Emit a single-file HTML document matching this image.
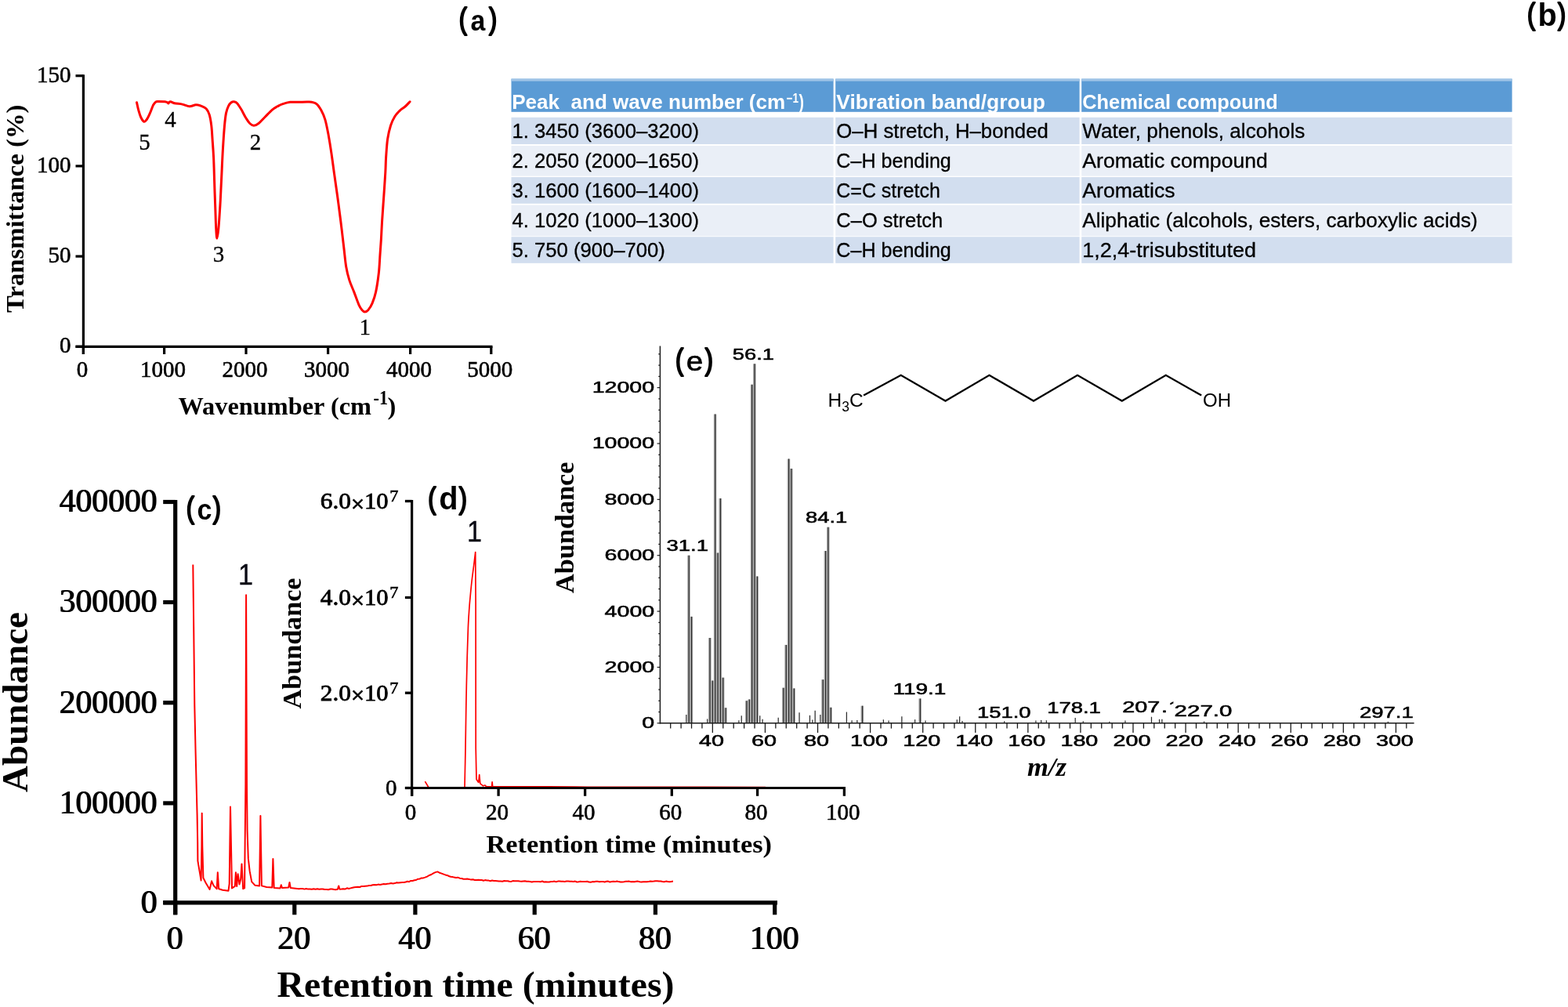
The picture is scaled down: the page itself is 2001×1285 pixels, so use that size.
<!DOCTYPE html>
<html lang="en"><head><meta charset="utf-8"><title>Figure</title>
<style>html,body{margin:0;padding:0;background:#fff}svg{display:block}</style></head>
<body>
<svg width="2001" height="1285" viewBox="0 0 2001 1285">
<rect width="2001" height="1285" fill="#fff"/>
<defs><filter id="bx2" x="-5%" y="-10%" width="110%" height="120%" color-interpolation-filters="sRGB"><feOffset in="SourceGraphic" dx="1" dy="0" result="a"/><feMerge><feMergeNode in="SourceGraphic"/><feMergeNode in="a"/></feMerge></filter></defs>
<text font-family='"Liberation Sans", sans-serif' fill="#000"><tspan x="585.8" y="37.0" font-size="38.8" font-weight="normal" stroke="#000" stroke-width="2.2" stroke-linejoin="round" textLength="10.2" lengthAdjust="spacingAndGlyphs">(</tspan><tspan x="600.4" y="39.0" font-size="37" font-weight="bold" textLength="18.8" lengthAdjust="spacingAndGlyphs">a</tspan><tspan x="624.0" y="37.0" font-size="38.8" font-weight="normal" stroke="#000" stroke-width="2.2" stroke-linejoin="round" textLength="10.2" lengthAdjust="spacingAndGlyphs">)</tspan></text>
<text font-family='"Liberation Sans", sans-serif' fill="#000"><tspan x="1949.0" y="31.2" font-size="38.8" font-weight="normal" stroke="#000" stroke-width="2.2" stroke-linejoin="round" textLength="10.2" lengthAdjust="spacingAndGlyphs">(</tspan><tspan x="1962.4" y="32.9" font-size="40.5" font-weight="bold" textLength="24.3" lengthAdjust="spacingAndGlyphs">b</tspan><tspan x="1988.0" y="31.2" font-size="38.8" font-weight="normal" stroke="#000" stroke-width="2.2" stroke-linejoin="round" textLength="10.2" lengthAdjust="spacingAndGlyphs">)</tspan></text>
<g id="panel-a">
<line x1="106.4" y1="95.2" x2="106.4" y2="452" stroke="#000" stroke-width="3.2" />
<line x1="96.5" y1="442.3" x2="628.5" y2="442.3" stroke="#000" stroke-width="3.2" />
<line x1="96.5" y1="442.3" x2="106.4" y2="442.3" stroke="#000" stroke-width="3.2" />
<text font-family='"Liberation Serif", serif' font-size="29" text-anchor="end" x="90.4" y="450.3" stroke="#000" stroke-width="0.6">0</text>
<line x1="96.5" y1="327.1" x2="106.4" y2="327.1" stroke="#000" stroke-width="3.2" />
<text font-family='"Liberation Serif", serif' font-size="29" text-anchor="end" x="90.4" y="335.1" stroke="#000" stroke-width="0.6">50</text>
<line x1="96.5" y1="211.9" x2="106.4" y2="211.9" stroke="#000" stroke-width="3.2" />
<text font-family='"Liberation Serif", serif' font-size="29" text-anchor="end" x="90.4" y="219.9" stroke="#000" stroke-width="0.6">100</text>
<line x1="96.5" y1="96.7" x2="106.4" y2="96.7" stroke="#000" stroke-width="3.2" />
<text font-family='"Liberation Serif", serif' font-size="29" text-anchor="end" x="90.4" y="104.7" stroke="#000" stroke-width="0.6">150</text>
<line x1="106.4" y1="442.3" x2="106.4" y2="452" stroke="#000" stroke-width="3.2" />
<text font-family='"Liberation Serif", serif' font-size="29" text-anchor="middle" x="104.9" y="480.7" stroke="#000" stroke-width="0.6">0</text>
<line x1="209.6" y1="442.3" x2="209.6" y2="452" stroke="#000" stroke-width="3.2" />
<text font-family='"Liberation Serif", serif' font-size="29" text-anchor="middle" x="208.1" y="480.7" stroke="#000" stroke-width="0.6">1000</text>
<line x1="314.0" y1="442.3" x2="314.0" y2="452" stroke="#000" stroke-width="3.2" />
<text font-family='"Liberation Serif", serif' font-size="29" text-anchor="middle" x="312.5" y="480.7" stroke="#000" stroke-width="0.6">2000</text>
<line x1="418.6" y1="442.3" x2="418.6" y2="452" stroke="#000" stroke-width="3.2" />
<text font-family='"Liberation Serif", serif' font-size="29" text-anchor="middle" x="417.1" y="480.7" stroke="#000" stroke-width="0.6">3000</text>
<line x1="523.6" y1="442.3" x2="523.6" y2="452" stroke="#000" stroke-width="3.2" />
<text font-family='"Liberation Serif", serif' font-size="29" text-anchor="middle" x="522.1" y="480.7" stroke="#000" stroke-width="0.6">4000</text>
<line x1="626.8" y1="442.3" x2="626.8" y2="452" stroke="#000" stroke-width="3.2" />
<text font-family='"Liberation Serif", serif' font-size="29" text-anchor="middle" x="625.3" y="480.7" stroke="#000" stroke-width="0.6">5000</text>
<text font-family='"Liberation Serif", serif' font-size="32" font-weight="bold" textLength="265.5" lengthAdjust="spacingAndGlyphs" transform="translate(29.5 399) rotate(-90)">Transmittance (%)</text>
<text font-family='"Liberation Serif", serif' font-weight="bold" font-size="32.5"><tspan x="227.5" y="528.7" textLength="246.5" lengthAdjust="spacingAndGlyphs">Wavenumber (cm</tspan><tspan x="476.5" y="515.6" font-size="24.5" textLength="18.5" lengthAdjust="spacingAndGlyphs">-1</tspan><tspan x="494.5" y="528.7">)</tspan></text>
<path d="M174.5 130.7C174.9 132.3 175.8 137.2 176.7 140.3C177.6 143.4 178.5 147.0 179.7 149.5C180.9 152.0 182.5 154.8 183.8 155.3C185.1 155.8 186.0 154.3 187.3 152.5C188.6 150.7 190.1 147.4 191.4 144.4C192.8 141.4 194.2 136.7 195.4 134.3C196.7 131.9 197.7 130.7 198.9 129.9C200.1 129.1 200.6 129.5 202.5 129.5C204.4 129.5 208.8 129.5 210.6 129.7C212.4 129.9 212.9 130.4 213.6 130.8C214.3 131.2 214.4 132.1 214.8 132.0C215.2 131.9 215.5 130.8 216.0 130.4C216.5 130.0 216.6 129.5 217.7 129.7C218.8 129.9 220.2 131.1 222.7 131.7C225.2 132.3 229.6 132.4 232.8 133.1C236.0 133.8 239.0 135.7 241.9 135.8C244.8 135.9 247.5 133.9 250.0 133.8C252.5 133.7 254.9 134.5 257.1 135.3C259.3 136.1 261.5 137.0 263.2 138.8C264.9 140.7 266.1 142.8 267.2 146.4C268.3 150.0 269.1 154.9 269.8 160.6C270.5 166.3 270.8 174.1 271.3 180.8C271.8 187.5 272.2 192.6 272.6 201.0C273.0 209.4 273.3 221.5 273.6 231.4C273.9 241.3 274.2 250.8 274.6 260.7C275.0 270.6 275.3 283.8 275.7 291.0C276.1 298.2 276.4 304.2 276.9 304.2C277.4 304.2 278.2 298.2 278.9 291.0C279.6 283.8 280.4 270.8 281.0 260.7C281.6 250.6 281.9 241.9 282.5 230.3C283.1 218.7 283.7 202.5 284.4 190.9C285.1 179.3 285.8 168.3 286.5 160.6C287.2 152.8 287.7 148.6 288.5 144.4C289.3 140.2 290.4 137.6 291.5 135.3C292.6 133.0 293.9 131.6 295.1 130.7C296.3 129.8 297.4 129.5 298.6 129.7C299.9 129.9 301.1 130.1 302.6 131.7C304.1 133.3 305.8 136.2 307.7 139.3C309.6 142.4 311.9 147.5 313.8 150.5C315.7 153.5 317.1 155.9 318.8 157.5C320.5 159.1 322.0 160.3 323.9 160.3C325.8 160.3 327.6 159.3 330.0 157.5C332.4 155.7 335.1 152.4 338.0 149.5C340.9 146.6 344.4 142.6 347.1 140.3C349.8 138.0 351.8 137.1 354.0 135.8C356.2 134.6 357.5 133.7 360.2 132.8C362.9 131.9 366.9 130.7 370.3 130.3C373.7 129.9 376.4 130.3 380.5 130.3C384.6 130.3 390.7 129.8 394.6 130.1C398.5 130.4 401.2 130.7 403.7 132.4C406.2 134.1 407.9 137.1 409.8 140.5C411.7 143.9 413.4 147.5 414.9 152.6C416.4 157.7 417.5 163.6 418.9 170.8C420.2 178.0 421.8 187.8 423.0 196.0C424.2 204.2 425.0 210.9 426.3 220.0C427.6 229.1 429.2 240.2 430.6 250.3C432.0 260.4 433.2 269.9 434.6 280.7C436.0 291.5 437.5 305.1 438.7 315.0C439.9 324.9 440.5 333.1 441.7 340.2C442.9 347.3 444.1 352.0 445.8 357.4C447.5 362.8 449.8 367.4 451.8 372.6C453.8 377.8 456.2 385.0 457.9 388.8C459.6 392.6 460.6 393.9 461.9 395.4C463.2 396.9 464.1 397.9 465.5 397.9C466.9 397.9 468.4 397.2 470.0 395.4C471.6 393.5 473.5 390.6 475.1 386.8C476.7 383.0 478.2 379.1 479.6 372.6C481.0 366.1 482.5 355.9 483.4 348.0C484.3 340.1 484.5 332.2 485.0 325.0C485.5 317.8 485.9 312.4 486.4 305.0C486.8 297.6 487.1 289.8 487.7 280.7C488.3 271.6 489.1 260.4 489.8 250.3C490.5 240.2 491.3 228.2 491.8 220.0C492.3 211.8 492.1 208.3 492.6 201.2C493.1 194.1 493.6 184.4 494.6 177.5C495.6 170.6 497.1 164.8 498.6 160.0C500.2 155.2 502.0 151.6 503.9 148.5C505.8 145.4 507.8 143.4 510.0 141.3C512.2 139.2 514.8 137.9 517.0 136.0C519.2 134.1 522.1 130.8 523.1 129.8" fill="none" stroke="#fe0000" stroke-width="3" stroke-linecap="round" stroke-linejoin="round"/>
<text font-family='"Liberation Serif", serif' font-size="29" text-anchor="middle" x="184.5" y="191.3" stroke="#000" stroke-width="0.3">5</text>
<text font-family='"Liberation Serif", serif' font-size="29" text-anchor="middle" x="217.5" y="162.0" stroke="#000" stroke-width="0.3">4</text>
<text font-family='"Liberation Serif", serif' font-size="29" text-anchor="middle" x="326" y="191.0" stroke="#000" stroke-width="0.3">2</text>
<text font-family='"Liberation Serif", serif' font-size="29" text-anchor="middle" x="279" y="334.0" stroke="#000" stroke-width="0.3">3</text>
<text font-family='"Liberation Serif", serif' font-size="29" text-anchor="middle" x="465.7" y="427.0" stroke="#000" stroke-width="0.3">1</text>
</g>
<g id="panel-b">
<rect x="652.50" y="100.60" width="411.10" height="42.20" fill="#5b9bd5"/>
<rect x="1066.20" y="100.60" width="311.40" height="42.20" fill="#5b9bd5"/>
<rect x="1380.20" y="100.60" width="549.40" height="42.20" fill="#5b9bd5"/>
<rect x="652.50" y="149.80" width="411.10" height="34.20" fill="#d2deef"/>
<rect x="1066.20" y="149.80" width="311.40" height="34.20" fill="#d2deef"/>
<rect x="1380.20" y="149.80" width="549.40" height="34.20" fill="#d2deef"/>
<rect x="652.50" y="186.00" width="411.10" height="38.60" fill="#eaeff7"/>
<rect x="1066.20" y="186.00" width="311.40" height="38.60" fill="#eaeff7"/>
<rect x="1380.20" y="186.00" width="549.40" height="38.60" fill="#eaeff7"/>
<rect x="652.50" y="226.00" width="411.10" height="33.80" fill="#d2deef"/>
<rect x="1066.20" y="226.00" width="311.40" height="33.80" fill="#d2deef"/>
<rect x="1380.20" y="226.00" width="549.40" height="33.80" fill="#d2deef"/>
<rect x="652.50" y="261.60" width="411.10" height="39.70" fill="#eaeff7"/>
<rect x="1066.20" y="261.60" width="311.40" height="39.70" fill="#eaeff7"/>
<rect x="1380.20" y="261.60" width="549.40" height="39.70" fill="#eaeff7"/>
<rect x="652.50" y="302.20" width="411.10" height="33.60" fill="#d2deef"/>
<rect x="1066.20" y="302.20" width="311.40" height="33.60" fill="#d2deef"/>
<rect x="1380.20" y="302.20" width="549.40" height="33.60" fill="#d2deef"/>
<rect x="652.50" y="100.60" width="411.10" height="3.00" fill="#9fc4e7"/>
<rect x="1066.20" y="100.60" width="311.40" height="3.00" fill="#9fc4e7"/>
<rect x="1380.20" y="100.60" width="549.40" height="3.00" fill="#9fc4e7"/>
<text font-family='"Liberation Sans", sans-serif' font-size="25.4" font-weight="bold" fill="#fff"><tspan x="653.2" y="139.2" textLength="349.0" lengthAdjust="spacingAndGlyphs">Peak  and wave number (cm</tspan><tspan x="1003.5" y="130.5" font-size="16.5" textLength="15.5" lengthAdjust="spacingAndGlyphs">−1</tspan><tspan x="1019.5" y="139.2" textLength="6.5" lengthAdjust="spacingAndGlyphs">)</tspan></text>
<text font-family='"Liberation Sans", sans-serif' font-size="25.4" font-weight="bold" textLength="266.5" lengthAdjust="spacingAndGlyphs" fill="#fff" x="1067.3" y="139.2">Vibration band/group</text>
<text font-family='"Liberation Sans", sans-serif' font-size="25.4" font-weight="bold" textLength="249.5" lengthAdjust="spacingAndGlyphs" fill="#fff" x="1381.3" y="139.2">Chemical compound</text>
<text font-family='"Liberation Sans", sans-serif' font-size="25.4" textLength="238.6" lengthAdjust="spacingAndGlyphs" x="653.4" y="176.3" stroke="#000" stroke-width="0.3">1. 3450 (3600–3200)</text>
<text font-family='"Liberation Sans", sans-serif' font-size="25.4" textLength="270.5" lengthAdjust="spacingAndGlyphs" x="1067.3" y="176.3" stroke="#000" stroke-width="0.3">O–H stretch, H–bonded</text>
<text font-family='"Liberation Sans", sans-serif' font-size="25.4" textLength="284.0" lengthAdjust="spacingAndGlyphs" x="1381.3" y="176.3" stroke="#000" stroke-width="0.3">Water, phenols, alcohols</text>
<text font-family='"Liberation Sans", sans-serif' font-size="25.4" textLength="238.6" lengthAdjust="spacingAndGlyphs" x="653.4" y="214.2" stroke="#000" stroke-width="0.3">2. 2050 (2000–1650)</text>
<text font-family='"Liberation Sans", sans-serif' font-size="25.4" textLength="146.5" lengthAdjust="spacingAndGlyphs" x="1067.3" y="214.2" stroke="#000" stroke-width="0.3">C–H bending</text>
<text font-family='"Liberation Sans", sans-serif' font-size="25.4" textLength="236.5" lengthAdjust="spacingAndGlyphs" x="1381.3" y="214.2" stroke="#000" stroke-width="0.3">Aromatic compound</text>
<text font-family='"Liberation Sans", sans-serif' font-size="25.4" textLength="238.6" lengthAdjust="spacingAndGlyphs" x="653.4" y="252.4" stroke="#000" stroke-width="0.3">3. 1600 (1600–1400)</text>
<text font-family='"Liberation Sans", sans-serif' font-size="25.4" textLength="132.5" lengthAdjust="spacingAndGlyphs" x="1067.3" y="252.4" stroke="#000" stroke-width="0.3">C=C stretch</text>
<text font-family='"Liberation Sans", sans-serif' font-size="25.4" textLength="118.2" lengthAdjust="spacingAndGlyphs" x="1381.3" y="252.4" stroke="#000" stroke-width="0.3">Aromatics</text>
<text font-family='"Liberation Sans", sans-serif' font-size="25.4" textLength="238.6" lengthAdjust="spacingAndGlyphs" x="653.4" y="290.2" stroke="#000" stroke-width="0.3">4. 1020 (1000–1300)</text>
<text font-family='"Liberation Sans", sans-serif' font-size="25.4" textLength="136.0" lengthAdjust="spacingAndGlyphs" x="1067.3" y="290.2" stroke="#000" stroke-width="0.3">C–O stretch</text>
<text font-family='"Liberation Sans", sans-serif' font-size="25.4" textLength="504.5" lengthAdjust="spacingAndGlyphs" x="1381.3" y="290.2" stroke="#000" stroke-width="0.3">Aliphatic (alcohols, esters, carboxylic acids)</text>
<text font-family='"Liberation Sans", sans-serif' font-size="25.4" textLength="195.5" lengthAdjust="spacingAndGlyphs" x="653.4" y="328.0" stroke="#000" stroke-width="0.3">5. 750 (900–700)</text>
<text font-family='"Liberation Sans", sans-serif' font-size="25.4" textLength="146.5" lengthAdjust="spacingAndGlyphs" x="1067.3" y="328.0" stroke="#000" stroke-width="0.3">C–H bending</text>
<text font-family='"Liberation Sans", sans-serif' font-size="25.4" textLength="221.8" lengthAdjust="spacingAndGlyphs" x="1381.3" y="328.0" stroke="#000" stroke-width="0.3">1,2,4-trisubstituted</text>
</g>
<g id="panel-c">
<line x1="223.7" y1="638.0" x2="223.7" y2="1167.3" stroke="#000" stroke-width="5.2" />
<line x1="208.2" y1="1151.8" x2="992.0" y2="1151.8" stroke="#000" stroke-width="5.2" />
<line x1="208.2" y1="1151.8" x2="223.7" y2="1151.8" stroke="#000" stroke-width="5.2" />
<text font-family='"Liberation Serif", serif' font-size="42" text-anchor="end" x="200.2" y="1164.6" stroke="#000" stroke-width="0.15" filter="url(#bx2)">0</text>
<line x1="208.2" y1="1024.9" x2="223.7" y2="1024.9" stroke="#000" stroke-width="5.2" />
<text font-family='"Liberation Serif", serif' font-size="42" text-anchor="end" textLength="125.0" lengthAdjust="spacingAndGlyphs" x="200.2" y="1037.7" stroke="#000" stroke-width="0.15" filter="url(#bx2)">100000</text>
<line x1="208.2" y1="896.7" x2="223.7" y2="896.7" stroke="#000" stroke-width="5.2" />
<text font-family='"Liberation Serif", serif' font-size="42" text-anchor="end" textLength="125.0" lengthAdjust="spacingAndGlyphs" x="200.2" y="909.5" stroke="#000" stroke-width="0.15" filter="url(#bx2)">200000</text>
<line x1="208.2" y1="768.5" x2="223.7" y2="768.5" stroke="#000" stroke-width="5.2" />
<text font-family='"Liberation Serif", serif' font-size="42" text-anchor="end" textLength="125.0" lengthAdjust="spacingAndGlyphs" x="200.2" y="781.3" stroke="#000" stroke-width="0.15" filter="url(#bx2)">300000</text>
<line x1="208.2" y1="640.5" x2="223.7" y2="640.5" stroke="#000" stroke-width="5.2" />
<text font-family='"Liberation Serif", serif' font-size="42" text-anchor="end" textLength="125.0" lengthAdjust="spacingAndGlyphs" x="200.2" y="653.3" stroke="#000" stroke-width="0.15" filter="url(#bx2)">400000</text>
<line x1="223.7" y1="1151.8" x2="223.7" y2="1167.3" stroke="#000" stroke-width="5.2" />
<text font-family='"Liberation Serif", serif' font-size="42" text-anchor="middle" x="222.7" y="1211.0" stroke="#000" stroke-width="0.15" filter="url(#bx2)">0</text>
<line x1="375.8" y1="1151.8" x2="375.8" y2="1167.3" stroke="#000" stroke-width="5.2" />
<text font-family='"Liberation Serif", serif' font-size="42" text-anchor="middle" x="374.8" y="1211.0" stroke="#000" stroke-width="0.15" filter="url(#bx2)">20</text>
<line x1="529.9" y1="1151.8" x2="529.9" y2="1167.3" stroke="#000" stroke-width="5.2" />
<text font-family='"Liberation Serif", serif' font-size="42" text-anchor="middle" x="528.9" y="1211.0" stroke="#000" stroke-width="0.15" filter="url(#bx2)">40</text>
<line x1="682.2" y1="1151.8" x2="682.2" y2="1167.3" stroke="#000" stroke-width="5.2" />
<text font-family='"Liberation Serif", serif' font-size="42" text-anchor="middle" x="681.2" y="1211.0" stroke="#000" stroke-width="0.15" filter="url(#bx2)">60</text>
<line x1="836.4" y1="1151.8" x2="836.4" y2="1167.3" stroke="#000" stroke-width="5.2" />
<text font-family='"Liberation Serif", serif' font-size="42" text-anchor="middle" x="835.4" y="1211.0" stroke="#000" stroke-width="0.15" filter="url(#bx2)">80</text>
<line x1="988.7" y1="1151.8" x2="988.7" y2="1167.3" stroke="#000" stroke-width="5.2" />
<text font-family='"Liberation Serif", serif' font-size="42" text-anchor="middle" x="987.7" y="1211.0" stroke="#000" stroke-width="0.15" filter="url(#bx2)">100</text>
<text font-family='"Liberation Serif", serif' font-size="46.5" font-weight="bold" textLength="230" lengthAdjust="spacingAndGlyphs" transform="translate(35.0 1011) rotate(-90)">Abundance</text>
<text font-family='"Liberation Serif", serif' font-size="45.5" font-weight="bold" textLength="507" lengthAdjust="spacingAndGlyphs" x="353.5" y="1271.8">Retention time (minutes)</text>
<text font-family='"Liberation Sans", sans-serif' fill="#000"><tspan x="237.8" y="660.5" font-size="38.8" font-weight="normal" stroke="#000" stroke-width="2.2" stroke-linejoin="round" textLength="10.2" lengthAdjust="spacingAndGlyphs">(</tspan><tspan x="251.4" y="662.5" font-size="37" font-weight="bold" textLength="18.9" lengthAdjust="spacingAndGlyphs">c</tspan><tspan x="271.7" y="660.5" font-size="38.8" font-weight="normal" stroke="#000" stroke-width="2.2" stroke-linejoin="round" textLength="10.2" lengthAdjust="spacingAndGlyphs">)</tspan></text>
<text font-family='"Liberation Sans", sans-serif' font-size="36" text-anchor="middle" textLength="19" lengthAdjust="spacingAndGlyphs" fill="#0a0a14" x="313.5" y="746.0" stroke="#0a0a14" stroke-width="0.4">1</text>
<path d="M246.3 720.5L247.2 800.0L248.3 900.0L249.6 960.0L250.6 1000.0L251.6 1040.0L252.2 1075.0L252.4 1098.7L254.4 1110.3L256.6 1123.5L257.4 1080.0L257.7 1037.7L258.3 1080.0L259.4 1120.2L262.7 1126.8L267.6 1135.0L270.1 1124.3L272.6 1130.1L276.7 1134.2L277.8 1113.2L279.2 1134.2L284.1 1135.8L291.5 1136.7L292.7 1127.6L294.0 1029.5L296.0 1133.4L299.8 1130.9L300.9 1113.2L302.2 1130.9L303.6 1115.2L305.5 1128.4L307.2 1121.8L308.5 1102.4L310.2 1134.2L312.1 1133.4L313.4 1000.0L314.1 759.2L315.0 1000.0L315.6 1060.0L316.8 1095.4L318.7 1111.9L321.2 1125.1L325.3 1129.7L331.1 1130.4L332.4 1041.0L333.9 1130.4L340.2 1132.0L347.3 1132.5L348.4 1095.9L349.7 1133.0L357.5 1133.4L358.8 1129.2L360.0 1133.0L368.2 1132.5L369.5 1125.9L370.8 1133.0L381.4 1134.2L383.8 1134.1L386.1 1134.0L388.5 1134.6L390.8 1134.0L393.2 1134.6L395.5 1134.5L397.9 1134.7L400.3 1134.3L402.6 1134.8L405.0 1134.3L407.3 1134.8L409.7 1134.4L412.0 1134.5L414.4 1135.0L416.8 1134.9L419.1 1135.3L421.5 1134.5L423.8 1134.5L426.2 1134.9L428.5 1135.2L430.9 1134.7L432.2 1130.4L433.5 1134.7L435.8 1134.6L438.1 1134.2L440.4 1134.6L442.8 1133.3L445.1 1134.0L447.4 1133.4L449.8 1132.8L452.1 1132.3L454.5 1131.9L456.8 1131.8L459.2 1132.0L461.5 1130.9L463.9 1130.9L466.2 1130.7L468.6 1130.6L470.9 1130.0L473.3 1130.0L475.6 1129.2L478.0 1129.0L480.3 1129.2L482.7 1128.6L485.0 1128.9L487.4 1128.4L489.7 1128.1L492.1 1128.2L494.4 1127.8L496.8 1127.6L499.2 1127.1L501.5 1127.4L503.9 1127.1L506.2 1126.3L508.6 1126.5L510.9 1126.2L513.3 1125.9L515.5 1126.0L517.7 1125.5L519.9 1124.7L522.1 1125.2L524.3 1123.9L526.5 1124.0L528.8 1123.3L531.0 1123.0L533.3 1121.7L535.6 1121.5L537.9 1120.4L540.1 1120.4L542.4 1119.6L545.0 1118.6L547.7 1117.0L550.4 1116.0L553.0 1114.3L555.6 1113.1L558.3 1112.4L560.9 1113.7L563.6 1114.6L566.2 1115.6L568.4 1116.4L570.6 1116.9L572.9 1118.0L575.1 1118.8L577.3 1118.9L579.5 1119.6L581.9 1120.1L584.3 1119.7L586.7 1120.7L589.1 1121.0L591.5 1121.7L593.9 1121.8L596.3 1121.5L598.7 1121.9L601.1 1122.6L603.5 1122.2L605.9 1123.0L608.1 1123.0L610.3 1122.8L612.5 1122.9L614.7 1122.9L616.9 1123.8L619.1 1123.1L621.4 1123.4L623.6 1123.6L625.8 1124.2L628.0 1123.5L630.2 1124.0L632.4 1124.1L634.6 1124.2L636.8 1124.6L639.0 1124.6L641.2 1124.7L643.4 1124.0L645.6 1124.2L647.9 1124.2L650.1 1124.8L652.3 1124.9L654.5 1124.1L656.7 1124.2L658.9 1124.3L661.1 1124.3L663.3 1124.6L665.5 1124.8L667.7 1124.4L669.9 1124.2L672.1 1124.7L674.4 1124.7L676.6 1124.9L678.8 1125.4L681.0 1125.1L683.2 1125.0L685.4 1125.0L687.6 1125.1L689.8 1125.2L692.0 1124.5L694.2 1125.5L696.4 1125.3L698.6 1125.4L700.9 1125.4L703.1 1124.9L705.3 1124.9L707.5 1124.6L709.7 1125.2L711.9 1124.6L714.1 1124.6L716.3 1124.8L718.5 1124.7L720.7 1124.9L722.9 1124.6L725.1 1124.6L727.4 1124.7L729.6 1124.7L731.8 1125.0L734.0 1124.6L736.2 1125.5L738.4 1125.3L740.6 1124.8L742.8 1124.9L745.0 1125.0L747.2 1125.0L749.4 1124.7L751.6 1125.6L753.9 1125.7L756.1 1125.1L758.3 1125.2L760.5 1124.7L762.7 1124.8L764.9 1125.2L767.1 1125.0L769.4 1124.9L771.6 1125.5L773.9 1124.8L776.1 1124.6L778.3 1125.6L780.6 1125.1L782.8 1124.7L785.0 1125.1L787.3 1124.5L789.5 1125.1L791.8 1125.6L794.0 1125.4L796.2 1125.2L798.5 1124.7L800.7 1124.8L802.9 1124.6L805.2 1125.2L807.4 1125.0L809.7 1125.2L811.9 1124.7L814.1 1124.6L816.4 1125.2L818.6 1125.4L820.9 1125.2L823.1 1125.2L825.3 1125.2L827.6 1125.1L829.8 1124.5L832.0 1124.8L834.3 1124.6L836.5 1124.2L838.8 1124.2L841.0 1124.5L843.2 1124.4L845.5 1124.9L847.7 1125.2L849.9 1124.6L852.2 1125.1L854.4 1125.2L856.7 1125.1L858.9 1124.6" fill="none" stroke="#fe0000" stroke-width="2.0" stroke-linejoin="round"/>
</g>
<g id="panel-d">
<path d="M542.4 997.1L547.1 1005.0L585.0 1005.2L593.0 1004.6C593.1 1000.5 593.3 988.3 593.5 980.0C593.7 971.7 593.8 965.6 594.0 954.8C594.2 944.0 594.4 928.2 594.6 915.0C594.8 901.8 595.0 888.1 595.3 875.3C595.6 862.5 595.9 850.4 596.2 838.0C596.6 825.6 597.0 811.4 597.4 801.2C597.8 791.0 598.3 784.5 598.8 777.0C599.3 769.5 600.0 762.7 600.6 756.2C601.2 749.7 601.8 743.7 602.5 738.0C603.2 732.3 603.9 727.4 604.6 721.8C605.3 716.2 606.4 707.5 606.7 704.6L607.1 769.4L607.2 954.8L608.0 994.5L610.7 998.4L611.7 988.7L612.8 999.8L616.5 1002.8L619.0 1002.0L620.5 1003.6L627.6 1003.9L628.1 997.9L628.7 1003.9L660.0 1003.8L700.0 1003.9L735.0 1004.1L750.0 1004.3L900.0 1004.3L977.0 1004.5" fill="none" stroke="#fe0000" stroke-width="1.7" stroke-linejoin="round"/>
<line x1="525.6" y1="638.0" x2="525.6" y2="1015.8" stroke="#000" stroke-width="3.2" />
<line x1="516.9" y1="1005.5" x2="1079.0" y2="1005.5" stroke="#000" stroke-width="3.1" />
<line x1="516.9" y1="1005.5" x2="525.6" y2="1005.5" stroke="#000" stroke-width="3.3" />
<text font-family='"Liberation Serif", serif' font-size="29" text-anchor="end" x="506.5" y="1014.8" stroke="#000" stroke-width="0.6">0</text>
<line x1="516.9" y1="884.2" x2="525.6" y2="884.2" stroke="#000" stroke-width="3.3" />
<text font-family='"Liberation Serif", serif' font-size="30" stroke="#000" stroke-width="0.8"><tspan x="408.8" y="893.6" textLength="39.2" lengthAdjust="spacingAndGlyphs">2.0</tspan><tspan x="448.0" y="897.2" textLength="17.0" lengthAdjust="spacingAndGlyphs">×</tspan><tspan x="465.0" y="893.6" textLength="30.6" lengthAdjust="spacingAndGlyphs">10</tspan><tspan x="497.2" y="884.6" font-size="21.5" stroke-width="0.6" textLength="11.2" lengthAdjust="spacingAndGlyphs">7</tspan></text>
<line x1="516.9" y1="762.5" x2="525.6" y2="762.5" stroke="#000" stroke-width="3.3" />
<text font-family='"Liberation Serif", serif' font-size="30" stroke="#000" stroke-width="0.8"><tspan x="408.8" y="771.9" textLength="39.2" lengthAdjust="spacingAndGlyphs">4.0</tspan><tspan x="448.0" y="775.5" textLength="17.0" lengthAdjust="spacingAndGlyphs">×</tspan><tspan x="465.0" y="771.9" textLength="30.6" lengthAdjust="spacingAndGlyphs">10</tspan><tspan x="497.2" y="762.9" font-size="21.5" stroke-width="0.6" textLength="11.2" lengthAdjust="spacingAndGlyphs">7</tspan></text>
<line x1="516.9" y1="639.5" x2="525.6" y2="639.5" stroke="#000" stroke-width="3.3" />
<text font-family='"Liberation Serif", serif' font-size="30" stroke="#000" stroke-width="0.8"><tspan x="408.8" y="648.9" textLength="39.2" lengthAdjust="spacingAndGlyphs">6.0</tspan><tspan x="448.0" y="652.5" textLength="17.0" lengthAdjust="spacingAndGlyphs">×</tspan><tspan x="465.0" y="648.9" textLength="30.6" lengthAdjust="spacingAndGlyphs">10</tspan><tspan x="497.2" y="639.9" font-size="21.5" stroke-width="0.6" textLength="11.2" lengthAdjust="spacingAndGlyphs">7</tspan></text>
<line x1="525.6" y1="1005.5" x2="525.6" y2="1015.8" stroke="#000" stroke-width="3.3" />
<text font-family='"Liberation Serif", serif' font-size="29" text-anchor="middle" x="524.0" y="1045.6" stroke="#000" stroke-width="0.6">0</text>
<line x1="636.1" y1="1005.5" x2="636.1" y2="1015.8" stroke="#000" stroke-width="3.3" />
<text font-family='"Liberation Serif", serif' font-size="29" text-anchor="middle" x="634.5" y="1045.6" stroke="#000" stroke-width="0.6">20</text>
<line x1="746.6" y1="1005.5" x2="746.6" y2="1015.8" stroke="#000" stroke-width="3.3" />
<text font-family='"Liberation Serif", serif' font-size="29" text-anchor="middle" x="745.0" y="1045.6" stroke="#000" stroke-width="0.6">40</text>
<line x1="857.3" y1="1005.5" x2="857.3" y2="1015.8" stroke="#000" stroke-width="3.3" />
<text font-family='"Liberation Serif", serif' font-size="29" text-anchor="middle" x="855.7" y="1045.6" stroke="#000" stroke-width="0.6">60</text>
<line x1="966.6" y1="1005.5" x2="966.6" y2="1015.8" stroke="#000" stroke-width="3.3" />
<text font-family='"Liberation Serif", serif' font-size="29" text-anchor="middle" x="965.0" y="1045.6" stroke="#000" stroke-width="0.6">80</text>
<line x1="1077.4" y1="1005.5" x2="1077.4" y2="1015.8" stroke="#000" stroke-width="3.3" />
<text font-family='"Liberation Serif", serif' font-size="29" text-anchor="middle" x="1075.8" y="1045.6" stroke="#000" stroke-width="0.6">100</text>
<text font-family='"Liberation Serif", serif' font-size="33.5" font-weight="bold" textLength="167" lengthAdjust="spacingAndGlyphs" transform="translate(384.0 904.5) rotate(-90)">Abundance</text>
<text font-family='"Liberation Serif", serif' font-size="31.5" font-weight="bold" textLength="364.5" lengthAdjust="spacingAndGlyphs" x="620.5" y="1087.8">Retention time (minutes)</text>
<text font-family='"Liberation Sans", sans-serif' fill="#000"><tspan x="546.2" y="648.9" font-size="38.8" font-weight="normal" stroke="#000" stroke-width="2.2" stroke-linejoin="round" textLength="10.2" lengthAdjust="spacingAndGlyphs">(</tspan><tspan x="560.2" y="650.1" font-size="40.5" font-weight="bold" textLength="24.3" lengthAdjust="spacingAndGlyphs">d</tspan><tspan x="585.8" y="648.9" font-size="38.8" font-weight="normal" stroke="#000" stroke-width="2.2" stroke-linejoin="round" textLength="10.2" lengthAdjust="spacingAndGlyphs">)</tspan></text>
<text font-family='"Liberation Sans", sans-serif' font-size="36" text-anchor="middle" textLength="19" lengthAdjust="spacingAndGlyphs" fill="#0a0a14" x="605.5" y="691.2" stroke="#0a0a14" stroke-width="0.4">1</text>
</g>
<g id="panel-e">
<defs><filter id="soft" x="-2%" y="-2%" width="104%" height="104%"><feGaussianBlur stdDeviation="0.5"/></filter></defs>
<g filter="url(#soft)">
<rect x="877.20" y="708.72" width="3.65" height="214.08" fill="#a9a9a9"/>
<rect x="880.55" y="786.86" width="3.65" height="135.94" fill="#a9a9a9"/>
<rect x="904.03" y="813.98" width="3.65" height="108.82" fill="#a9a9a9"/>
<rect x="907.38" y="868.57" width="3.65" height="54.23" fill="#a9a9a9"/>
<rect x="910.74" y="528.54" width="3.65" height="394.26" fill="#a9a9a9"/>
<rect x="914.09" y="705.51" width="3.65" height="217.29" fill="#a9a9a9"/>
<rect x="917.45" y="635.93" width="3.65" height="286.87" fill="#a9a9a9"/>
<rect x="920.80" y="864.64" width="3.65" height="58.16" fill="#a9a9a9"/>
<rect x="924.15" y="903.18" width="3.65" height="19.62" fill="#a9a9a9"/>
<rect x="950.99" y="894.26" width="3.65" height="28.54" fill="#a9a9a9"/>
<rect x="954.34" y="892.47" width="3.65" height="30.33" fill="#a9a9a9"/>
<rect x="957.69" y="490.72" width="3.65" height="432.08" fill="#a9a9a9"/>
<rect x="961.05" y="464.31" width="3.65" height="458.49" fill="#a9a9a9"/>
<rect x="964.40" y="735.48" width="3.65" height="187.32" fill="#a9a9a9"/>
<rect x="997.94" y="877.66" width="3.65" height="45.14" fill="#a9a9a9"/>
<rect x="1001.30" y="822.90" width="3.65" height="99.90" fill="#a9a9a9"/>
<rect x="1004.65" y="585.62" width="3.65" height="337.18" fill="#a9a9a9"/>
<rect x="1008.00" y="598.11" width="3.65" height="324.69" fill="#a9a9a9"/>
<rect x="1011.36" y="878.38" width="3.65" height="44.42" fill="#a9a9a9"/>
<rect x="1048.25" y="867.14" width="3.65" height="55.66" fill="#a9a9a9"/>
<rect x="1051.61" y="703.01" width="3.65" height="219.79" fill="#a9a9a9"/>
<rect x="1054.96" y="672.68" width="3.65" height="250.12" fill="#a9a9a9"/>
<rect x="1058.31" y="902.82" width="3.65" height="19.98" fill="#a9a9a9"/>
<rect x="1098.56" y="900.68" width="3.65" height="22.12" fill="#a9a9a9"/>
<rect x="1172.35" y="891.40" width="3.65" height="31.40" fill="#a9a9a9"/>
<line x1="875.82" y1="912.10" x2="875.82" y2="922.8" stroke="#2e2e2e" stroke-width="1.25" />
<line x1="879.17" y1="708.72" x2="879.17" y2="922.8" stroke="#2e2e2e" stroke-width="1.25" />
<line x1="882.53" y1="786.86" x2="882.53" y2="922.8" stroke="#2e2e2e" stroke-width="1.25" />
<line x1="902.65" y1="917.45" x2="902.65" y2="922.8" stroke="#2e2e2e" stroke-width="1.25" />
<line x1="906.01" y1="813.98" x2="906.01" y2="922.8" stroke="#2e2e2e" stroke-width="1.25" />
<line x1="909.36" y1="868.57" x2="909.36" y2="922.8" stroke="#2e2e2e" stroke-width="1.25" />
<line x1="912.71" y1="528.54" x2="912.71" y2="922.8" stroke="#2e2e2e" stroke-width="1.25" />
<line x1="916.07" y1="705.51" x2="916.07" y2="922.8" stroke="#2e2e2e" stroke-width="1.25" />
<line x1="919.42" y1="635.93" x2="919.42" y2="922.8" stroke="#2e2e2e" stroke-width="1.25" />
<line x1="922.78" y1="864.64" x2="922.78" y2="922.8" stroke="#2e2e2e" stroke-width="1.25" />
<line x1="926.13" y1="903.18" x2="926.13" y2="922.8" stroke="#2e2e2e" stroke-width="1.25" />
<line x1="942.90" y1="919.23" x2="942.90" y2="922.8" stroke="#2e2e2e" stroke-width="1.25" />
<line x1="946.25" y1="913.17" x2="946.25" y2="922.8" stroke="#2e2e2e" stroke-width="1.25" />
<line x1="952.96" y1="894.26" x2="952.96" y2="922.8" stroke="#2e2e2e" stroke-width="1.25" />
<line x1="956.32" y1="892.47" x2="956.32" y2="922.8" stroke="#2e2e2e" stroke-width="1.25" />
<line x1="959.67" y1="490.72" x2="959.67" y2="922.8" stroke="#2e2e2e" stroke-width="1.25" />
<line x1="963.02" y1="464.31" x2="963.02" y2="922.8" stroke="#2e2e2e" stroke-width="1.25" />
<line x1="966.38" y1="735.48" x2="966.38" y2="922.8" stroke="#2e2e2e" stroke-width="1.25" />
<line x1="969.73" y1="913.17" x2="969.73" y2="922.8" stroke="#2e2e2e" stroke-width="1.25" />
<line x1="973.09" y1="917.80" x2="973.09" y2="922.8" stroke="#2e2e2e" stroke-width="1.25" />
<line x1="993.21" y1="915.66" x2="993.21" y2="922.8" stroke="#2e2e2e" stroke-width="1.25" />
<line x1="999.92" y1="877.66" x2="999.92" y2="922.8" stroke="#2e2e2e" stroke-width="1.25" />
<line x1="1003.27" y1="822.90" x2="1003.27" y2="922.8" stroke="#2e2e2e" stroke-width="1.25" />
<line x1="1006.63" y1="585.62" x2="1006.63" y2="922.8" stroke="#2e2e2e" stroke-width="1.25" />
<line x1="1009.98" y1="598.11" x2="1009.98" y2="922.8" stroke="#2e2e2e" stroke-width="1.25" />
<line x1="1013.33" y1="878.38" x2="1013.33" y2="922.8" stroke="#2e2e2e" stroke-width="1.25" />
<line x1="1020.04" y1="909.24" x2="1020.04" y2="922.8" stroke="#2e2e2e" stroke-width="1.25" />
<line x1="1033.46" y1="912.81" x2="1033.46" y2="922.8" stroke="#2e2e2e" stroke-width="1.25" />
<line x1="1036.81" y1="918.52" x2="1036.81" y2="922.8" stroke="#2e2e2e" stroke-width="1.25" />
<line x1="1040.17" y1="906.74" x2="1040.17" y2="922.8" stroke="#2e2e2e" stroke-width="1.25" />
<line x1="1046.87" y1="912.10" x2="1046.87" y2="922.8" stroke="#2e2e2e" stroke-width="1.25" />
<line x1="1050.23" y1="867.14" x2="1050.23" y2="922.8" stroke="#2e2e2e" stroke-width="1.25" />
<line x1="1053.58" y1="703.01" x2="1053.58" y2="922.8" stroke="#2e2e2e" stroke-width="1.25" />
<line x1="1056.94" y1="672.68" x2="1056.94" y2="922.8" stroke="#2e2e2e" stroke-width="1.25" />
<line x1="1060.29" y1="902.82" x2="1060.29" y2="922.8" stroke="#2e2e2e" stroke-width="1.25" />
<line x1="1080.41" y1="908.53" x2="1080.41" y2="922.8" stroke="#2e2e2e" stroke-width="1.25" />
<line x1="1087.12" y1="919.23" x2="1087.12" y2="922.8" stroke="#2e2e2e" stroke-width="1.25" />
<line x1="1093.83" y1="918.88" x2="1093.83" y2="922.8" stroke="#2e2e2e" stroke-width="1.25" />
<line x1="1100.54" y1="900.68" x2="1100.54" y2="922.8" stroke="#2e2e2e" stroke-width="1.25" />
<line x1="1127.37" y1="918.16" x2="1127.37" y2="922.8" stroke="#2e2e2e" stroke-width="1.25" />
<line x1="1134.08" y1="919.59" x2="1134.08" y2="922.8" stroke="#2e2e2e" stroke-width="1.25" />
<line x1="1150.85" y1="914.24" x2="1150.85" y2="922.8" stroke="#2e2e2e" stroke-width="1.25" />
<line x1="1167.62" y1="918.16" x2="1167.62" y2="922.8" stroke="#2e2e2e" stroke-width="1.25" />
<line x1="1174.33" y1="891.40" x2="1174.33" y2="922.8" stroke="#2e2e2e" stroke-width="1.25" />
<line x1="1181.03" y1="919.59" x2="1181.03" y2="922.8" stroke="#2e2e2e" stroke-width="1.25" />
<line x1="1221.28" y1="918.16" x2="1221.28" y2="922.8" stroke="#2e2e2e" stroke-width="1.25" />
<line x1="1224.64" y1="914.24" x2="1224.64" y2="922.8" stroke="#2e2e2e" stroke-width="1.25" />
<line x1="1227.99" y1="919.95" x2="1227.99" y2="922.8" stroke="#2e2e2e" stroke-width="1.25" />
<line x1="1281.65" y1="920.30" x2="1281.65" y2="922.8" stroke="#2e2e2e" stroke-width="1.25" />
<line x1="1321.90" y1="919.59" x2="1321.90" y2="922.8" stroke="#2e2e2e" stroke-width="1.25" />
<line x1="1328.61" y1="918.88" x2="1328.61" y2="922.8" stroke="#2e2e2e" stroke-width="1.25" />
<line x1="1335.32" y1="919.23" x2="1335.32" y2="922.8" stroke="#2e2e2e" stroke-width="1.25" />
<line x1="1372.21" y1="916.02" x2="1372.21" y2="922.8" stroke="#2e2e2e" stroke-width="1.25" />
<line x1="1382.27" y1="920.30" x2="1382.27" y2="922.8" stroke="#2e2e2e" stroke-width="1.25" />
<line x1="1415.81" y1="920.66" x2="1415.81" y2="922.8" stroke="#2e2e2e" stroke-width="1.25" />
<line x1="1435.94" y1="919.59" x2="1435.94" y2="922.8" stroke="#2e2e2e" stroke-width="1.25" />
<line x1="1469.48" y1="914.77" x2="1469.48" y2="922.8" stroke="#2e2e2e" stroke-width="1.25" />
<line x1="1479.54" y1="917.80" x2="1479.54" y2="922.8" stroke="#2e2e2e" stroke-width="1.25" />
<line x1="1482.89" y1="917.80" x2="1482.89" y2="922.8" stroke="#2e2e2e" stroke-width="1.25" />
<line x1="1536.56" y1="918.16" x2="1536.56" y2="922.8" stroke="#2e2e2e" stroke-width="1.25" />
<line x1="1771.34" y1="920.66" x2="1771.34" y2="922.8" stroke="#2e2e2e" stroke-width="1.25" />
</g>
<line x1="842.4" y1="441.5" x2="842.4" y2="923.4" stroke="#1c1c1c" stroke-width="1.5" />
<line x1="841.8" y1="922.8" x2="1804.6" y2="922.8" stroke="#1c1c1c" stroke-width="1.5" />
<line x1="838.6" y1="922.80" x2="842.4" y2="922.80" stroke="#1c1c1c" stroke-width="1.2" />
<line x1="840.2" y1="908.53" x2="842.4" y2="908.53" stroke="#1c1c1c" stroke-width="1.2" />
<line x1="840.2" y1="894.26" x2="842.4" y2="894.26" stroke="#1c1c1c" stroke-width="1.2" />
<line x1="840.2" y1="879.98" x2="842.4" y2="879.98" stroke="#1c1c1c" stroke-width="1.2" />
<line x1="840.2" y1="865.71" x2="842.4" y2="865.71" stroke="#1c1c1c" stroke-width="1.2" />
<line x1="838.6" y1="851.44" x2="842.4" y2="851.44" stroke="#1c1c1c" stroke-width="1.2" />
<line x1="840.2" y1="837.17" x2="842.4" y2="837.17" stroke="#1c1c1c" stroke-width="1.2" />
<line x1="840.2" y1="822.90" x2="842.4" y2="822.90" stroke="#1c1c1c" stroke-width="1.2" />
<line x1="840.2" y1="808.62" x2="842.4" y2="808.62" stroke="#1c1c1c" stroke-width="1.2" />
<line x1="840.2" y1="794.35" x2="842.4" y2="794.35" stroke="#1c1c1c" stroke-width="1.2" />
<line x1="838.6" y1="780.08" x2="842.4" y2="780.08" stroke="#1c1c1c" stroke-width="1.2" />
<line x1="840.2" y1="765.81" x2="842.4" y2="765.81" stroke="#1c1c1c" stroke-width="1.2" />
<line x1="840.2" y1="751.54" x2="842.4" y2="751.54" stroke="#1c1c1c" stroke-width="1.2" />
<line x1="840.2" y1="737.26" x2="842.4" y2="737.26" stroke="#1c1c1c" stroke-width="1.2" />
<line x1="840.2" y1="722.99" x2="842.4" y2="722.99" stroke="#1c1c1c" stroke-width="1.2" />
<line x1="838.6" y1="708.72" x2="842.4" y2="708.72" stroke="#1c1c1c" stroke-width="1.2" />
<line x1="840.2" y1="694.45" x2="842.4" y2="694.45" stroke="#1c1c1c" stroke-width="1.2" />
<line x1="840.2" y1="680.18" x2="842.4" y2="680.18" stroke="#1c1c1c" stroke-width="1.2" />
<line x1="840.2" y1="665.90" x2="842.4" y2="665.90" stroke="#1c1c1c" stroke-width="1.2" />
<line x1="840.2" y1="651.63" x2="842.4" y2="651.63" stroke="#1c1c1c" stroke-width="1.2" />
<line x1="838.6" y1="637.36" x2="842.4" y2="637.36" stroke="#1c1c1c" stroke-width="1.2" />
<line x1="840.2" y1="623.09" x2="842.4" y2="623.09" stroke="#1c1c1c" stroke-width="1.2" />
<line x1="840.2" y1="608.82" x2="842.4" y2="608.82" stroke="#1c1c1c" stroke-width="1.2" />
<line x1="840.2" y1="594.54" x2="842.4" y2="594.54" stroke="#1c1c1c" stroke-width="1.2" />
<line x1="840.2" y1="580.27" x2="842.4" y2="580.27" stroke="#1c1c1c" stroke-width="1.2" />
<line x1="838.6" y1="566.00" x2="842.4" y2="566.00" stroke="#1c1c1c" stroke-width="1.2" />
<line x1="840.2" y1="551.73" x2="842.4" y2="551.73" stroke="#1c1c1c" stroke-width="1.2" />
<line x1="840.2" y1="537.46" x2="842.4" y2="537.46" stroke="#1c1c1c" stroke-width="1.2" />
<line x1="840.2" y1="523.18" x2="842.4" y2="523.18" stroke="#1c1c1c" stroke-width="1.2" />
<line x1="840.2" y1="508.91" x2="842.4" y2="508.91" stroke="#1c1c1c" stroke-width="1.2" />
<line x1="838.6" y1="494.64" x2="842.4" y2="494.64" stroke="#1c1c1c" stroke-width="1.2" />
<line x1="840.2" y1="480.37" x2="842.4" y2="480.37" stroke="#1c1c1c" stroke-width="1.2" />
<line x1="840.2" y1="466.10" x2="842.4" y2="466.10" stroke="#1c1c1c" stroke-width="1.2" />
<line x1="840.2" y1="451.82" x2="842.4" y2="451.82" stroke="#1c1c1c" stroke-width="1.2" />
<line x1="855.70" y1="922.8" x2="855.70" y2="929.6" stroke="#1c1c1c" stroke-width="1.3" />
<line x1="869.11" y1="922.8" x2="869.11" y2="929.6" stroke="#1c1c1c" stroke-width="1.3" />
<line x1="882.53" y1="922.8" x2="882.53" y2="929.6" stroke="#1c1c1c" stroke-width="1.3" />
<line x1="895.94" y1="922.8" x2="895.94" y2="929.6" stroke="#1c1c1c" stroke-width="1.3" />
<line x1="909.36" y1="922.8" x2="909.36" y2="935.1" stroke="#1c1c1c" stroke-width="1.3" />
<line x1="922.78" y1="922.8" x2="922.78" y2="929.6" stroke="#1c1c1c" stroke-width="1.3" />
<line x1="936.19" y1="922.8" x2="936.19" y2="929.6" stroke="#1c1c1c" stroke-width="1.3" />
<line x1="949.61" y1="922.8" x2="949.61" y2="929.6" stroke="#1c1c1c" stroke-width="1.3" />
<line x1="963.02" y1="922.8" x2="963.02" y2="929.6" stroke="#1c1c1c" stroke-width="1.3" />
<line x1="976.44" y1="922.8" x2="976.44" y2="935.1" stroke="#1c1c1c" stroke-width="1.3" />
<line x1="989.86" y1="922.8" x2="989.86" y2="929.6" stroke="#1c1c1c" stroke-width="1.3" />
<line x1="1003.27" y1="922.8" x2="1003.27" y2="929.6" stroke="#1c1c1c" stroke-width="1.3" />
<line x1="1016.69" y1="922.8" x2="1016.69" y2="929.6" stroke="#1c1c1c" stroke-width="1.3" />
<line x1="1030.10" y1="922.8" x2="1030.10" y2="929.6" stroke="#1c1c1c" stroke-width="1.3" />
<line x1="1043.52" y1="922.8" x2="1043.52" y2="935.1" stroke="#1c1c1c" stroke-width="1.3" />
<line x1="1056.94" y1="922.8" x2="1056.94" y2="929.6" stroke="#1c1c1c" stroke-width="1.3" />
<line x1="1070.35" y1="922.8" x2="1070.35" y2="929.6" stroke="#1c1c1c" stroke-width="1.3" />
<line x1="1083.77" y1="922.8" x2="1083.77" y2="929.6" stroke="#1c1c1c" stroke-width="1.3" />
<line x1="1097.18" y1="922.8" x2="1097.18" y2="929.6" stroke="#1c1c1c" stroke-width="1.3" />
<line x1="1110.60" y1="922.8" x2="1110.60" y2="935.1" stroke="#1c1c1c" stroke-width="1.3" />
<line x1="1124.02" y1="922.8" x2="1124.02" y2="929.6" stroke="#1c1c1c" stroke-width="1.3" />
<line x1="1137.43" y1="922.8" x2="1137.43" y2="929.6" stroke="#1c1c1c" stroke-width="1.3" />
<line x1="1150.85" y1="922.8" x2="1150.85" y2="929.6" stroke="#1c1c1c" stroke-width="1.3" />
<line x1="1164.26" y1="922.8" x2="1164.26" y2="929.6" stroke="#1c1c1c" stroke-width="1.3" />
<line x1="1177.68" y1="922.8" x2="1177.68" y2="935.1" stroke="#1c1c1c" stroke-width="1.3" />
<line x1="1191.10" y1="922.8" x2="1191.10" y2="929.6" stroke="#1c1c1c" stroke-width="1.3" />
<line x1="1204.51" y1="922.8" x2="1204.51" y2="929.6" stroke="#1c1c1c" stroke-width="1.3" />
<line x1="1217.93" y1="922.8" x2="1217.93" y2="929.6" stroke="#1c1c1c" stroke-width="1.3" />
<line x1="1231.34" y1="922.8" x2="1231.34" y2="929.6" stroke="#1c1c1c" stroke-width="1.3" />
<line x1="1244.76" y1="922.8" x2="1244.76" y2="935.1" stroke="#1c1c1c" stroke-width="1.3" />
<line x1="1258.18" y1="922.8" x2="1258.18" y2="929.6" stroke="#1c1c1c" stroke-width="1.3" />
<line x1="1271.59" y1="922.8" x2="1271.59" y2="929.6" stroke="#1c1c1c" stroke-width="1.3" />
<line x1="1285.01" y1="922.8" x2="1285.01" y2="929.6" stroke="#1c1c1c" stroke-width="1.3" />
<line x1="1298.42" y1="922.8" x2="1298.42" y2="929.6" stroke="#1c1c1c" stroke-width="1.3" />
<line x1="1311.84" y1="922.8" x2="1311.84" y2="935.1" stroke="#1c1c1c" stroke-width="1.3" />
<line x1="1325.26" y1="922.8" x2="1325.26" y2="929.6" stroke="#1c1c1c" stroke-width="1.3" />
<line x1="1338.67" y1="922.8" x2="1338.67" y2="929.6" stroke="#1c1c1c" stroke-width="1.3" />
<line x1="1352.09" y1="922.8" x2="1352.09" y2="929.6" stroke="#1c1c1c" stroke-width="1.3" />
<line x1="1365.50" y1="922.8" x2="1365.50" y2="929.6" stroke="#1c1c1c" stroke-width="1.3" />
<line x1="1378.92" y1="922.8" x2="1378.92" y2="935.1" stroke="#1c1c1c" stroke-width="1.3" />
<line x1="1392.34" y1="922.8" x2="1392.34" y2="929.6" stroke="#1c1c1c" stroke-width="1.3" />
<line x1="1405.75" y1="922.8" x2="1405.75" y2="929.6" stroke="#1c1c1c" stroke-width="1.3" />
<line x1="1419.17" y1="922.8" x2="1419.17" y2="929.6" stroke="#1c1c1c" stroke-width="1.3" />
<line x1="1432.58" y1="922.8" x2="1432.58" y2="929.6" stroke="#1c1c1c" stroke-width="1.3" />
<line x1="1446.00" y1="922.8" x2="1446.00" y2="935.1" stroke="#1c1c1c" stroke-width="1.3" />
<line x1="1459.42" y1="922.8" x2="1459.42" y2="929.6" stroke="#1c1c1c" stroke-width="1.3" />
<line x1="1472.83" y1="922.8" x2="1472.83" y2="929.6" stroke="#1c1c1c" stroke-width="1.3" />
<line x1="1486.25" y1="922.8" x2="1486.25" y2="929.6" stroke="#1c1c1c" stroke-width="1.3" />
<line x1="1499.66" y1="922.8" x2="1499.66" y2="929.6" stroke="#1c1c1c" stroke-width="1.3" />
<line x1="1513.08" y1="922.8" x2="1513.08" y2="935.1" stroke="#1c1c1c" stroke-width="1.3" />
<line x1="1526.50" y1="922.8" x2="1526.50" y2="929.6" stroke="#1c1c1c" stroke-width="1.3" />
<line x1="1539.91" y1="922.8" x2="1539.91" y2="929.6" stroke="#1c1c1c" stroke-width="1.3" />
<line x1="1553.33" y1="922.8" x2="1553.33" y2="929.6" stroke="#1c1c1c" stroke-width="1.3" />
<line x1="1566.74" y1="922.8" x2="1566.74" y2="929.6" stroke="#1c1c1c" stroke-width="1.3" />
<line x1="1580.16" y1="922.8" x2="1580.16" y2="935.1" stroke="#1c1c1c" stroke-width="1.3" />
<line x1="1593.58" y1="922.8" x2="1593.58" y2="929.6" stroke="#1c1c1c" stroke-width="1.3" />
<line x1="1606.99" y1="922.8" x2="1606.99" y2="929.6" stroke="#1c1c1c" stroke-width="1.3" />
<line x1="1620.41" y1="922.8" x2="1620.41" y2="929.6" stroke="#1c1c1c" stroke-width="1.3" />
<line x1="1633.82" y1="922.8" x2="1633.82" y2="929.6" stroke="#1c1c1c" stroke-width="1.3" />
<line x1="1647.24" y1="922.8" x2="1647.24" y2="935.1" stroke="#1c1c1c" stroke-width="1.3" />
<line x1="1660.66" y1="922.8" x2="1660.66" y2="929.6" stroke="#1c1c1c" stroke-width="1.3" />
<line x1="1674.07" y1="922.8" x2="1674.07" y2="929.6" stroke="#1c1c1c" stroke-width="1.3" />
<line x1="1687.49" y1="922.8" x2="1687.49" y2="929.6" stroke="#1c1c1c" stroke-width="1.3" />
<line x1="1700.90" y1="922.8" x2="1700.90" y2="929.6" stroke="#1c1c1c" stroke-width="1.3" />
<line x1="1714.32" y1="922.8" x2="1714.32" y2="935.1" stroke="#1c1c1c" stroke-width="1.3" />
<line x1="1727.74" y1="922.8" x2="1727.74" y2="929.6" stroke="#1c1c1c" stroke-width="1.3" />
<line x1="1741.15" y1="922.8" x2="1741.15" y2="929.6" stroke="#1c1c1c" stroke-width="1.3" />
<line x1="1754.57" y1="922.8" x2="1754.57" y2="929.6" stroke="#1c1c1c" stroke-width="1.3" />
<line x1="1767.98" y1="922.8" x2="1767.98" y2="929.6" stroke="#1c1c1c" stroke-width="1.3" />
<line x1="1781.40" y1="922.8" x2="1781.40" y2="935.1" stroke="#1c1c1c" stroke-width="1.3" />
<line x1="1794.82" y1="922.8" x2="1794.82" y2="929.6" stroke="#1c1c1c" stroke-width="1.3" />
<text font-family='"Liberation Sans", sans-serif' font-size="20.5" text-anchor="end" textLength="15.9" lengthAdjust="spacingAndGlyphs" x="835.2" y="929.2" stroke="#000" stroke-width="0.55">0</text>
<text font-family='"Liberation Sans", sans-serif' font-size="20.5" text-anchor="end" textLength="63.6" lengthAdjust="spacingAndGlyphs" x="835.2" y="857.8" stroke="#000" stroke-width="0.55">2000</text>
<text font-family='"Liberation Sans", sans-serif' font-size="20.5" text-anchor="end" textLength="63.6" lengthAdjust="spacingAndGlyphs" x="835.2" y="786.5" stroke="#000" stroke-width="0.55">4000</text>
<text font-family='"Liberation Sans", sans-serif' font-size="20.5" text-anchor="end" textLength="63.6" lengthAdjust="spacingAndGlyphs" x="835.2" y="715.1" stroke="#000" stroke-width="0.55">6000</text>
<text font-family='"Liberation Sans", sans-serif' font-size="20.5" text-anchor="end" textLength="63.6" lengthAdjust="spacingAndGlyphs" x="835.2" y="643.8" stroke="#000" stroke-width="0.55">8000</text>
<text font-family='"Liberation Sans", sans-serif' font-size="20.5" text-anchor="end" textLength="79.5" lengthAdjust="spacingAndGlyphs" x="835.2" y="572.4" stroke="#000" stroke-width="0.55">10000</text>
<text font-family='"Liberation Sans", sans-serif' font-size="20.5" text-anchor="end" textLength="79.5" lengthAdjust="spacingAndGlyphs" x="835.2" y="501.0" stroke="#000" stroke-width="0.55">12000</text>
<text font-family='"Liberation Sans", sans-serif' font-size="19.5" text-anchor="middle" textLength="32.0" lengthAdjust="spacingAndGlyphs" x="907.9" y="952.2" stroke="#000" stroke-width="0.55">40</text>
<text font-family='"Liberation Sans", sans-serif' font-size="19.5" text-anchor="middle" textLength="32.0" lengthAdjust="spacingAndGlyphs" x="974.9" y="952.2" stroke="#000" stroke-width="0.55">60</text>
<text font-family='"Liberation Sans", sans-serif' font-size="19.5" text-anchor="middle" textLength="32.0" lengthAdjust="spacingAndGlyphs" x="1042.0" y="952.2" stroke="#000" stroke-width="0.55">80</text>
<text font-family='"Liberation Sans", sans-serif' font-size="19.5" text-anchor="middle" textLength="48.0" lengthAdjust="spacingAndGlyphs" x="1109.1" y="952.2" stroke="#000" stroke-width="0.55">100</text>
<text font-family='"Liberation Sans", sans-serif' font-size="19.5" text-anchor="middle" textLength="48.0" lengthAdjust="spacingAndGlyphs" x="1176.2" y="952.2" stroke="#000" stroke-width="0.55">120</text>
<text font-family='"Liberation Sans", sans-serif' font-size="19.5" text-anchor="middle" textLength="48.0" lengthAdjust="spacingAndGlyphs" x="1243.3" y="952.2" stroke="#000" stroke-width="0.55">140</text>
<text font-family='"Liberation Sans", sans-serif' font-size="19.5" text-anchor="middle" textLength="48.0" lengthAdjust="spacingAndGlyphs" x="1310.3" y="952.2" stroke="#000" stroke-width="0.55">160</text>
<text font-family='"Liberation Sans", sans-serif' font-size="19.5" text-anchor="middle" textLength="48.0" lengthAdjust="spacingAndGlyphs" x="1377.4" y="952.2" stroke="#000" stroke-width="0.55">180</text>
<text font-family='"Liberation Sans", sans-serif' font-size="19.5" text-anchor="middle" textLength="48.0" lengthAdjust="spacingAndGlyphs" x="1444.5" y="952.2" stroke="#000" stroke-width="0.55">200</text>
<text font-family='"Liberation Sans", sans-serif' font-size="19.5" text-anchor="middle" textLength="48.0" lengthAdjust="spacingAndGlyphs" x="1511.6" y="952.2" stroke="#000" stroke-width="0.55">220</text>
<text font-family='"Liberation Sans", sans-serif' font-size="19.5" text-anchor="middle" textLength="48.0" lengthAdjust="spacingAndGlyphs" x="1578.7" y="952.2" stroke="#000" stroke-width="0.55">240</text>
<text font-family='"Liberation Sans", sans-serif' font-size="19.5" text-anchor="middle" textLength="48.0" lengthAdjust="spacingAndGlyphs" x="1645.7" y="952.2" stroke="#000" stroke-width="0.55">260</text>
<text font-family='"Liberation Sans", sans-serif' font-size="19.5" text-anchor="middle" textLength="48.0" lengthAdjust="spacingAndGlyphs" x="1712.8" y="952.2" stroke="#000" stroke-width="0.55">280</text>
<text font-family='"Liberation Sans", sans-serif' font-size="19.5" text-anchor="middle" textLength="48.0" lengthAdjust="spacingAndGlyphs" x="1779.9" y="952.2" stroke="#000" stroke-width="0.55">300</text>
<text font-family='"Liberation Sans", sans-serif' font-size="20.5" textLength="53.5" lengthAdjust="spacingAndGlyphs" x="850.5" y="703.0" stroke="#000" stroke-width="0.55">31.1</text>
<text font-family='"Liberation Sans", sans-serif' font-size="20.5" textLength="53.2" lengthAdjust="spacingAndGlyphs" x="934.8" y="459.4" stroke="#000" stroke-width="0.55">56.1</text>
<text font-family='"Liberation Sans", sans-serif' font-size="20.5" textLength="53.2" lengthAdjust="spacingAndGlyphs" x="1028.0" y="666.8" stroke="#000" stroke-width="0.55">84.1</text>
<text font-family='"Liberation Sans", sans-serif' font-size="20.5" textLength="67.9" lengthAdjust="spacingAndGlyphs" x="1139.5" y="886.3" stroke="#000" stroke-width="0.55">119.1</text>
<text font-family='"Liberation Sans", sans-serif' font-size="20.5" textLength="68.6" lengthAdjust="spacingAndGlyphs" x="1247.0" y="915.9" stroke="#000" stroke-width="0.55">151.0</text>
<text font-family='"Liberation Sans", sans-serif' font-size="20.5" textLength="68.6" lengthAdjust="spacingAndGlyphs" x="1336.2" y="910.3" stroke="#000" stroke-width="0.55">178.1</text>
<text font-family='"Liberation Sans", sans-serif' font-size="20.5" stroke="#000" stroke-width="0.55"><tspan x="1432.3" y="909.0" textLength="48.1" lengthAdjust="spacingAndGlyphs">207</tspan><tspan x="1481.9" y="909.0" textLength="8.0" lengthAdjust="spacingAndGlyphs">.</tspan><tspan x="1491.0" y="909.0" textLength="16.0" lengthAdjust="spacingAndGlyphs">1</tspan></text>
<rect x="1497.40" y="893.00" width="78.00" height="27.50" fill="#fff"/>
<rect x="1489.50" y="900.40" width="9.00" height="12.00" fill="#fff"/>
<text font-family='"Liberation Sans", sans-serif' font-size="20.5" textLength="73.8" lengthAdjust="spacingAndGlyphs" x="1498.6" y="913.8" stroke="#000" stroke-width="0.55">227.0</text>
<text font-family='"Liberation Sans", sans-serif' font-size="20.5" textLength="68.8" lengthAdjust="spacingAndGlyphs" x="1735.0" y="916.0" stroke="#000" stroke-width="0.55">297.1</text>
<text font-family='"Liberation Serif", serif' font-size="33.5" font-weight="bold" textLength="167.5" lengthAdjust="spacingAndGlyphs" transform="translate(731.8 757.0) rotate(-90)">Abundance</text>
<text font-family='"Liberation Serif", serif' font-size="34" font-weight="bold" font-style="italic" textLength="50" lengthAdjust="spacingAndGlyphs" x="1311.0" y="989.8">m/z</text>
<text font-family='"Liberation Sans", sans-serif' fill="#000"><tspan x="862.1" y="471.9" font-size="38.8" font-weight="normal" stroke="#000" stroke-width="2.2" stroke-linejoin="round" textLength="10.2" lengthAdjust="spacingAndGlyphs">(</tspan><tspan x="875.8" y="473.4" font-size="35.5" font-weight="normal" stroke="#000" stroke-width="0.7" stroke-linejoin="round" textLength="21.5" lengthAdjust="spacingAndGlyphs">e</tspan><tspan x="899.8" y="471.9" font-size="38.8" font-weight="normal" stroke="#000" stroke-width="2.2" stroke-linejoin="round" textLength="10.2" lengthAdjust="spacingAndGlyphs">)</tspan></text>
</g>
<g id="molecule">
<path d="M1102.1 504.6L1149.7 478.8L1206.5 511.6L1262.5 478.8L1319.0 511.6L1375.0 478.8L1431.8 511.6L1487.8 478.8L1533.2 504.6" fill="none" stroke="#000" stroke-width="2.3" stroke-linejoin="miter"/>
<text font-family='"Liberation Sans", sans-serif' font-size="24.5" x="1056.6" y="518.7">H<tspan font-size="17.5" dy="6.3">3</tspan><tspan dy="-6.3">C</tspan></text>
<text font-family='"Liberation Sans", sans-serif' font-size="24.5" textLength="36.0" lengthAdjust="spacingAndGlyphs" x="1535.0" y="518.9">OH</text>
</g>
</svg>
</body></html>
